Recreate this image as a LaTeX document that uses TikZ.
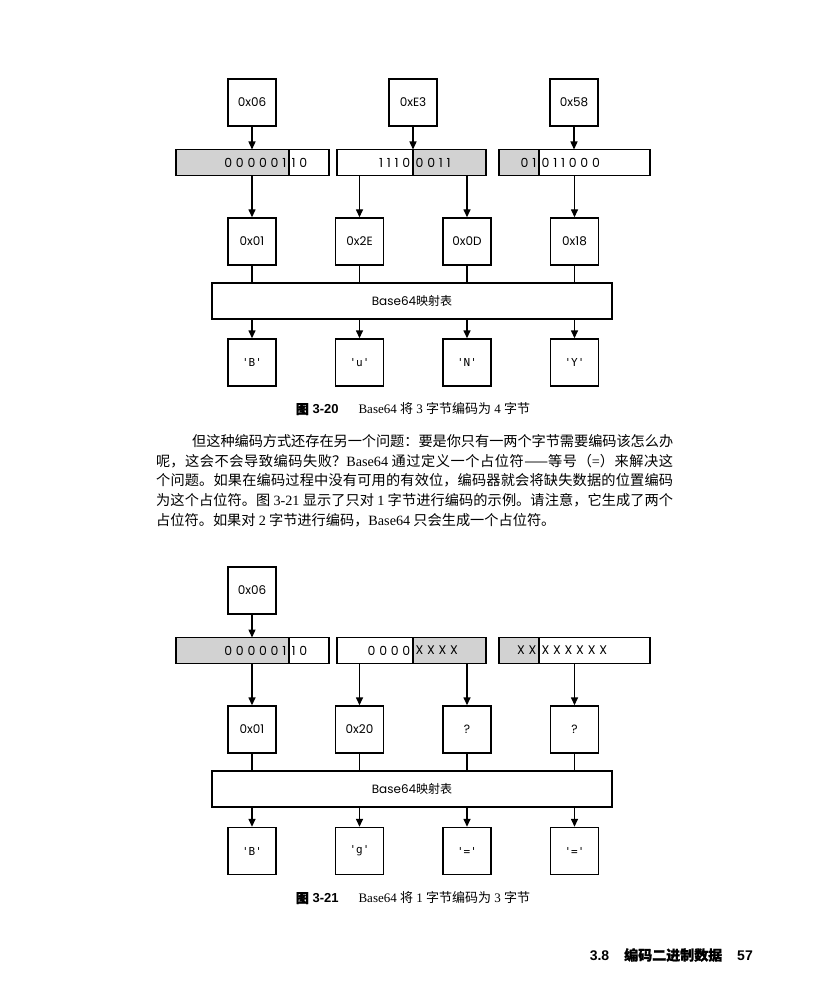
\documentclass[tikz,border=0pt]{standalone}
\usepackage{fontspec}
\setmainfont{Liberation Serif}
\setsansfont{Liberation Sans}
\newfontfamily\cjk{Noto Sans CJK SC}
\newfontfamily\cjkb[FakeBold=1]{Noto Sans CJK SC}
\newfontfamily\geo{Poppins}
\newfontfamily\bitfont[LetterSpace=30]{Poppins}
\newfontfamily\mono{DejaVu Sans Mono}
\usetikzlibrary{arrows.meta}
\usetikzlibrary{positioning}
\XeTeXlinebreaklocale "zh"
\XeTeXlinebreakskip=0pt plus 3pt minus 0.5pt
\newcommand{\lat}[1]{{\rmfamily #1}}
\newcommand{\qt}[1]{\char39\relax #1\char39\relax}
\tikzstyle{octet}=[draw,line width=1.4pt,minimum width=48pt,minimum height=47pt,inner sep=0pt,
font=\geo\fontsize{12}{14}\selectfont]
\tikzstyle{carac}=[octet,font=\mono\fontsize{11}{12}\selectfont]
\tikzstyle{gris}=[draw,line width=1.4pt,fill=gray!35,minimum height=26pt,inner sep=0pt,outer sep=0pt]
\tikzstyle{blanc}=[draw,line width=1.4pt,fill=white,minimum height=26pt,inner sep=0pt,outer sep=0pt]
\tikzstyle{bits}=[inner sep=2.5pt,font=\bitfont\fontsize{12.5}{14}\selectfont]
\tikzstyle{tablebox}=[draw,line width=1.4pt,minimum width=400pt,minimum height=36pt,inner sep=0pt,
font=\fontsize{12}{14}\selectfont]
\tikzstyle{legende}=[inner sep=0pt,font=\fontsize{13}{15}\selectfont]
\tikzstyle{suite}=[-{Triangle[length=8pt,width=7pt]},line width=1.4pt]
\tikzstyle{lien}=[line width=1.4pt]
\begin{document}
\begin{tikzpicture}[x=1pt,y=-1pt]
\useasboundingbox (0,0) rectangle (813,1008);
% figure 3-20
\node[octet] (h1) at (252,102.5) {0x06};
\node[octet] (h2) at (413,102.5) {0xE3};
\node[octet] (h3) at (574,102.5) {0x58};
\node[gris,minimum width=113pt] (g1) at (232.5,162.5) {};
\node[blanc,minimum width=40pt,right=0pt of g1] (w1) {};
\node[blanc,minimum width=76pt] (w2) at (375,162.5) {};
\node[gris,minimum width=73pt,right=0pt of w2] (g2) {};
\node[gris,minimum width=40pt] (g3) at (519,162.5) {};
\node[blanc,minimum width=111pt,right=0pt of g3] (w3) {};
\node[bits,anchor=east] at (g1.east) {000001};
\node[bits,anchor=west] at (w1.west) {10};
\node[bits,anchor=east] at (w2.east) {1110};
\node[bits,anchor=west] at (g2.west) {0011};
\node[bits,anchor=east] at (g3.east) {01};
\node[bits,anchor=west] at (w3.west) {011000};
\node[octet] (m1) at (252,241.5) {0x01};
\node[octet] (m2) at (359.5,241.5) {0x2E};
\node[octet] (m3) at (467,241.5) {0x0D};
\node[octet] (m4) at (574.5,241.5) {0x18};
\node[tablebox] (tab) at (412,301) {{\geo Base64}{\cjk 映射表}};
\node[carac] (c1) at (252,362.5) {\qt{B}};
\node[carac] (c2) at (359.5,362.5) {\qt{u}};
\node[carac] (c3) at (467,362.5) {\qt{N}};
\node[carac] (c4) at (574.5,362.5) {\qt{Y}};
\node[legende] (l1) at (413,409) {{\sffamily\bfseries{\cjkb 图} 3-20}\hspace{20pt}Base64 {\cjk 将} 3 {\cjk 字节编码为} 4 {\cjk 字节}};
\draw[suite] (h1) -- (h1 |- g1.north);
\draw[suite] (h2) -- (h2 |- g2.north);
\draw[suite] (h3) -- (h3 |- w3.north);
\draw[suite] (m1 |- g1.south) -- (m1);
\draw[suite] (m2 |- w2.south) -- (m2);
\draw[suite] (m3 |- g2.south) -- (m3);
\draw[suite] (m4 |- w3.south) -- (m4);
\draw[lien] (m1) -- (m1 |- tab.north);
\draw[lien] (m2) -- (m2 |- tab.north);
\draw[lien] (m3) -- (m3 |- tab.north);
\draw[lien] (m4) -- (m4 |- tab.north);
\draw[suite] (c1 |- tab.south) -- (c1);
\draw[suite] (c2 |- tab.south) -- (c2);
\draw[suite] (c3 |- tab.south) -- (c3);
\draw[suite] (c4 |- tab.south) -- (c4);
% texte
\node[anchor=north west,text width=517pt,inner sep=0pt,align=justify,
font=\cjk\fontsize{14.2}{19.8}\selectfont] (texte) at (156,434) {\hspace*{36pt}但这种编码方式还存在另一个问题：要是你只有一两个字节需要编码该怎么办\linebreak
呢，这会不会导致编码失败？\lat{Base64} 通过定义一个占位符——等号（\lat{=}）来解决这\linebreak
个问题。如果在编码过程中没有可用的有效位，编码器就会将缺失数据的位置编码\linebreak
为这个占位符。图 \lat{3-21} 显示了只对 \lat{1} 字节进行编码的示例。请注意，它生成了两个\linebreak
占位符。如果对 \lat{2} 字节进行编码，\lat{Base64} 只会生成一个占位符。};
% figure 3-21
\node[octet] (hb1) at (252,590.5) {0x06};
\node[gris,minimum width=113pt] (gb1) at (232.5,650.5) {};
\node[blanc,minimum width=40pt,right=0pt of gb1] (wb1) {};
\node[blanc,minimum width=76pt] (wb2) at (375,650.5) {};
\node[gris,minimum width=73pt,right=0pt of wb2] (gb2) {};
\node[gris,minimum width=40pt] (gb3) at (519,650.5) {};
\node[blanc,minimum width=111pt,right=0pt of gb3] (wb3) {};
\node[bits,anchor=east] at (gb1.east) {000001};
\node[bits,anchor=west] at (wb1.west) {10};
\node[bits,anchor=east] at (wb2.east) {0000};
\node[bits,anchor=west] at (gb2.west) {XXXX};
\node[bits,anchor=east] at (gb3.east) {XX};
\node[bits,anchor=west] at (wb3.west) {XXXXXX};
\node[octet] (mb1) at (252,729.5) {0x01};
\node[octet] (mb2) at (359.5,729.5) {0x20};
\node[octet] (mb3) at (467,729.5) {?};
\node[octet] (mb4) at (574.5,729.5) {?};
\node[tablebox] (tabb) at (412,789) {{\geo Base64}{\cjk 映射表}};
\node[carac] (cb1) at (252,851) {\qt{B}};
\node[carac] (cb2) at (359.5,851) {\qt{g}};
\node[carac] (cb3) at (467,851) {\qt{=}};
\node[carac] (cb4) at (574.5,851) {\qt{=}};
\node[legende] (l2) at (413,898) {{\sffamily\bfseries{\cjkb 图} 3-21}\hspace{20pt}Base64 {\cjk 将} 1 {\cjk 字节编码为} 3 {\cjk 字节}};
\draw[suite] (hb1) -- (hb1 |- gb1.north);
\draw[suite] (mb1 |- gb1.south) -- (mb1);
\draw[suite] (mb2 |- wb2.south) -- (mb2);
\draw[suite] (mb3 |- gb2.south) -- (mb3);
\draw[suite] (mb4 |- wb3.south) -- (mb4);
\draw[lien] (mb1) -- (mb1 |- tabb.north);
\draw[lien] (mb2) -- (mb2 |- tabb.north);
\draw[lien] (mb3) -- (mb3 |- tabb.north);
\draw[lien] (mb4) -- (mb4 |- tabb.north);
\draw[suite] (cb1 |- tabb.south) -- (cb1);
\draw[suite] (cb2 |- tabb.south) -- (cb2);
\draw[suite] (cb3 |- tabb.south) -- (cb3);
\draw[suite] (cb4 |- tabb.south) -- (cb4);
% pied de page
\node[anchor=east,inner sep=0pt,font=\sffamily\bfseries\fontsize{14}{16}\selectfont] (pied) at (753,955)
{3.8\hspace{15pt}{\cjkb 编码二进制数据}\hspace{15pt}57};
\end{tikzpicture}
\end{document}
